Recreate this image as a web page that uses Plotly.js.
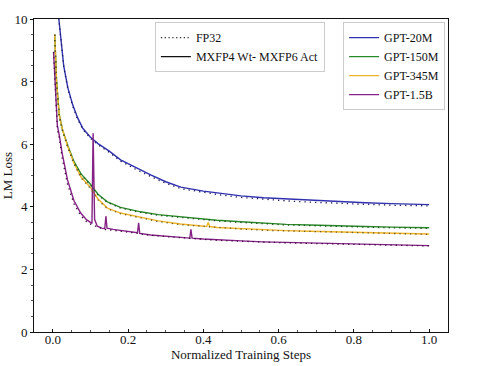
<!DOCTYPE html>
<html>
<head>
<meta charset="utf-8">
<script src="https://cdn.plot.ly/plotly-3.0.1.min.js"></script>
<style>html,body{margin:0;padding:0;background:#fff;}#chart{width:477px;height:366px;}</style>
</head>
<body>
<div id="chart"></div>
<script>
// ---- data ----
const seriesNames = ["GPT-20M", "GPT-150M", "GPT-345M", "GPT-1.5B"];
const styleNames = ["FP32", "MXFP4 Wt- MXFP6 Act"];

const steps20M = [0.0, 0.016, 0.029, 0.04, 0.053, 0.066, 0.08, 0.1, 0.12, 0.15, 0.18, 0.22, 0.26, 0.3, 0.34, 0.4, 0.45, 0.5, 0.56, 0.62, 0.68, 0.75, 0.83, 0.9, 1.0];
const loss20M_mx = [11.2, 10.0, 8.5, 7.8, 7.25, 6.84, 6.5, 6.22, 6.02, 5.78, 5.5, 5.25, 5.02, 4.8, 4.63, 4.5, 4.42, 4.35, 4.29, 4.25, 4.21, 4.17, 4.13, 4.1, 4.07];
const loss20M_fp = [11.2, 10.0, 8.47, 7.76, 7.21, 6.8, 6.47, 6.19, 5.98, 5.74, 5.46, 5.2, 4.97, 4.75, 4.58, 4.46, 4.37, 4.3, 4.24, 4.19, 4.15, 4.11, 4.08, 4.05, 4.03];

const steps150M = [0.005, 0.01, 0.017, 0.026, 0.04, 0.056, 0.075, 0.1, 0.12, 0.145, 0.18, 0.233, 0.28, 0.339, 0.4, 0.436, 0.5, 0.558, 0.62, 0.683, 0.75, 0.83, 0.9, 1.0];
const loss150M_mx = [9.5, 8.0, 6.95, 6.45, 5.95, 5.45, 5.05, 4.72, 4.4, 4.16, 3.98, 3.84, 3.75, 3.68, 3.61, 3.57, 3.52, 3.47, 3.44, 3.42, 3.39, 3.37, 3.35, 3.33];
const loss150M_fp = [9.5, 7.95, 6.92, 6.42, 5.92, 5.42, 5.02, 4.7, 4.38, 4.14, 3.96, 3.82, 3.73, 3.66, 3.59, 3.55, 3.5, 3.45, 3.42, 3.4, 3.37, 3.35, 3.33, 3.31];

const steps345M = [0.005, 0.01, 0.017, 0.026, 0.039, 0.056, 0.075, 0.1, 0.12, 0.145, 0.18, 0.233, 0.28, 0.339, 0.4, 0.409, 0.413, 0.417, 0.436, 0.5, 0.558, 0.62, 0.683, 0.75, 0.83, 0.9, 1.0];
const loss345M_mx = [9.5, 8.0, 6.93, 6.45, 5.95, 5.4, 4.95, 4.62, 4.25, 3.96, 3.8, 3.67, 3.55, 3.45, 3.38, 3.37, 3.5, 3.37, 3.34, 3.3, 3.26, 3.24, 3.22, 3.2, 3.17, 3.15, 3.13];
const loss345M_fp = [9.5, 7.95, 6.9, 6.42, 5.92, 5.37, 4.92, 4.59, 4.22, 3.94, 3.78, 3.65, 3.53, 3.43, 3.37, 3.36, 3.36, 3.35, 3.33, 3.29, 3.25, 3.23, 3.21, 3.19, 3.16, 3.14, 3.12];

const steps1_5B = [0.002, 0.005, 0.008, 0.012, 0.017, 0.025, 0.039, 0.056, 0.074, 0.09, 0.104, 0.107, 0.111, 0.118, 0.13, 0.138, 0.141, 0.144, 0.16, 0.188, 0.225, 0.228, 0.231, 0.26, 0.3, 0.339, 0.364, 0.367, 0.37, 0.4, 0.436, 0.5, 0.558, 0.62, 0.683, 0.75, 0.83, 0.9, 1.0];
const loss1_5B_mx = [8.95, 8.3, 7.5, 6.6, 6.3, 5.7, 4.86, 4.2, 3.8, 3.58, 3.47, 6.35, 3.6, 3.38, 3.32, 3.3, 3.7, 3.32, 3.28, 3.24, 3.17, 3.49, 3.15, 3.1, 3.06, 3.02, 3.0, 3.28, 3.0, 2.97, 2.94, 2.91, 2.88, 2.86, 2.84, 2.82, 2.8, 2.78, 2.76];
const loss1_5B_fp = [8.95, 8.2, 7.4, 6.5, 6.2, 5.55, 4.72, 4.1, 3.72, 3.52, 3.42, 3.41, 3.4, 3.35, 3.3, 3.28, 3.27, 3.27, 3.25, 3.22, 3.16, 3.15, 3.14, 3.09, 3.05, 3.01, 2.99, 2.99, 2.98, 2.96, 2.93, 2.9, 2.87, 2.85, 2.83, 2.81, 2.79, 2.77, 2.75];

const xTicks = [0.0, 0.2, 0.4, 0.6, 0.8, 1.0];
const yTicks = [0, 2, 4, 6, 8, 10];

// ---- styling ----
const colors = ["#3030b0", "#2a8a2a", "#f0b429", "#862286"];
const dotColors = ["#1c1c5c", "#1d4d1d", "#6b5a20", "#3d0a3d"];
const font = "'Liberation Serif', 'Times New Roman', serif";

const stepsAll = [steps20M, steps150M, steps345M, steps1_5B];
const mxAll = [loss20M_mx, loss150M_mx, loss345M_mx, loss1_5B_mx];
const fpAll = [loss20M_fp, loss150M_fp, loss345M_fp, loss1_5B_fp];

const traces = [];
for (let i = 0; i < 4; i++) {
  traces.push({
    x: stepsAll[i], y: mxAll[i], mode: "lines", name: seriesNames[i],
    line: {color: colors[i], width: 1.4}, legend: "legend2", showlegend: true
  });
}
for (let i = 0; i < 4; i++) {
  traces.push({
    x: stepsAll[i], y: fpAll[i], mode: "lines", name: styleNames[0],
    line: {color: dotColors[i], width: 1.3, dash: "1.3px,4px"}, showlegend: false
  });
}
// style legend entries
traces.push({x: [null], y: [null], mode: "lines", name: styleNames[0], line: {color: "#333", width: 1.2, dash: "1.3px,2.5px"}, legend: "legend"});
traces.push({x: [null], y: [null], mode: "lines", name: styleNames[1], line: {color: "#111", width: 1.4}, legend: "legend"});

const layout = {
  width: 477, height: 366,
  margin: {l: 34, r: 29, t: 19, b: 34},
  paper_bgcolor: "#fff", plot_bgcolor: "#fff",
  font: {family: font, size: 13, color: "#111"},
  xaxis: {
    range: [-0.05, 1.05], tickvals: xTicks, ticktext: xTicks.map(v => v.toFixed(1)),
    showgrid: false, zeroline: false, showline: true, mirror: true, linecolor: "#111", linewidth: 1,
    ticks: "inside", ticklen: 3, tickcolor: "#111", ticklabelstandoff: -5,
    minor: {dtick: 0.05, ticks: "inside", ticklen: 2, tickcolor: "#555", showgrid: false},
    title: {text: "Normalized Training Steps", font: {size: 13, family: font}, standoff: 1},
    tickfont: {size: 13, family: font}
  },
  yaxis: {
    range: [0, 10], tickvals: yTicks, ticktext: yTicks.map(String),
    showgrid: false, zeroline: false, showline: true, mirror: true, linecolor: "#111", linewidth: 1,
    ticks: "outside", ticklen: 3, tickcolor: "#111",
    minor: {dtick: 0.5, ticks: "outside", ticklen: 2, tickcolor: "#555", showgrid: false},
    title: {text: "LM Loss", font: {size: 13, family: font}, standoff: 4},
    tickfont: {size: 13, family: font}
  },
  legend: {
    x: 0.292, y: 0.99, xanchor: "left", yanchor: "top",
    bgcolor: "rgba(255,255,255,0.9)", bordercolor: "#cccccc", borderwidth: 1,
    font: {size: 12, family: font}, tracegroupgap: 0, itemwidth: 30
  },
  legend2: {
    x: 0.993, y: 0.99, xanchor: "right", yanchor: "top",
    bgcolor: "rgba(255,255,255,0.9)", bordercolor: "#cccccc", borderwidth: 1,
    font: {size: 12, family: font}, tracegroupgap: 0, itemwidth: 30
  },
  showlegend: true
};

Plotly.newPlot("chart", traces, layout, {staticPlot: true, displayModeBar: false});
</script>
</body>
</html>
